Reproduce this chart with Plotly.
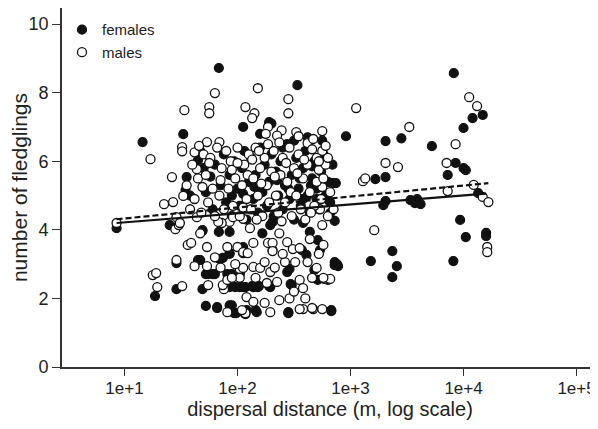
import numpy as np
import plotly.graph_objects as go

# ---- data: log10 dispersal distance (m) and number of fledglings ----
fem_logd = [0.93, 1.16, 1.27, 1.40, 1.46, 1.46, 1.52, 1.55, 1.54, 1.58, 1.65, 1.70, 1.76, 1.69, 1.67,
            1.72, 1.78, 1.69, 1.72, 1.82, 1.835, 1.87, 1.93, 1.91, 1.93, 1.93, 1.99, 2.02, 2.02, 2.07,
            1.835, 2.05, 2.28, 2.53, 1.67,
            2.96, 3.31, 3.45, 3.72, 3.914, 4.0, 4.08, 4.17, 3.93, 4.0, 4.02, 3.86, 3.22, 3.31, 2.84,
            2.87, 3.31, 3.29, 3.53, 3.59, 3.62, 3.57, 4.13, 3.97, 4.02, 4.20, 4.20, 3.37, 3.41, 3.37,
            3.18, 3.91, 2.82, 2.86, 2.86, 2.89, 2.83, 2.75,
            2.22, 2.29, 2.31, 2.58, 2.64, 2.71, 2.73, 2.86, 2.88, 2.05, 2.05, 2.14, 2.18, 2.29, 2.31,
            2.44, 2.48, 2.57, 2.68, 2.71, 2.80, 2.08, 2.16, 2.45, 2.83, 2.61, 2.58, 2.70, 2.79,
            1.82, 1.95, 1.97, 2.07, 2.17, 2.45, 1.93, 1.98, 2.13, 2.19, 2.28, 2.47, 1.74, 1.80, 1.95,
            2.02, 2.46, 1.65, 1.84, 1.93, 1.69,
            1.72, 1.78, 1.80, 1.85, 1.88, 1.90, 1.93, 1.95, 1.97, 2.00, 2.02, 2.04, 2.06, 2.08, 2.10,
            2.12, 2.14, 2.16, 2.18, 2.20, 2.22, 2.24, 2.26, 2.28, 2.30, 2.32, 2.34, 2.36, 2.38, 2.40,
            2.42, 2.44, 2.46, 2.48, 2.50, 2.52, 2.54, 2.56, 2.58, 2.60, 2.62, 2.64, 2.66, 2.68, 2.70,
            2.72, 2.74, 2.76, 2.78, 2.80, 2.82, 2.84, 2.15, 2.25, 2.35, 2.45, 2.55, 2.65, 1.95, 2.05,
            2.40, 2.50, 2.62, 2.20, 2.30, 2.66]
fem_fledg = [4.05, 6.56, 2.07, 4.14, 3.03, 2.27, 6.79, 5.54, 5.16, 5.00, 6.03, 5.80, 5.55, 3.97, 3.12,
             2.71, 2.71, 2.27, 1.78, 1.75, 3.94, 3.18, 3.30, 2.71, 3.94, 1.80, 1.57, 2.33, 2.75, 2.33,
             8.72, 7.00, 7.14, 8.22, 6.30,
             6.73, 6.59, 6.67, 6.44, 8.57, 6.97, 7.26, 7.35, 5.95, 5.80, 5.74, 5.60, 5.48, 5.54, 5.36,
             5.36, 4.84, 4.72, 4.87, 4.90, 4.75, 4.78, 5.07, 4.29, 3.79, 3.91, 3.82, 3.38, 2.94, 2.62,
             3.09, 3.09, 4.49, 4.26, 2.97, 2.94, 1.63, 6.60,
             3.90, 4.14, 4.23, 4.20, 3.94, 3.70, 3.41, 3.06, 3.00, 3.50, 2.33, 2.33, 2.33, 2.33, 3.41,
             2.77, 2.39, 3.41, 2.83, 2.54, 2.54, 1.66, 1.66, 1.57, 1.66, 3.27, 4.90, 4.90, 4.90,
             1.72, 1.80, 1.57, 1.54, 1.60, 1.60, 2.33, 2.33, 2.36, 2.36, 2.36, 2.42, 2.71, 2.71, 2.71,
             2.71, 2.86, 3.12, 3.15, 3.32, 3.99,
             5.10, 4.60, 5.90, 5.30, 6.20, 4.80, 5.60, 4.40, 6.00, 5.20, 4.70, 5.80, 6.30, 4.30, 5.40,
             6.10, 4.90, 5.60, 4.50, 6.40, 5.10, 5.90, 4.70, 5.40, 6.20, 4.40, 5.70, 5.00, 6.00, 4.60,
             5.30, 6.50, 4.90, 5.60, 4.30, 6.10, 5.20, 4.70, 5.80, 6.30, 5.00, 4.50, 5.50, 6.00, 5.20,
             4.60, 5.70, 6.20, 5.00, 5.40, 4.80, 5.90, 5.25, 5.30, 5.45, 5.20, 5.50, 5.30, 5.00, 5.05,
             6.40, 6.60, 6.70, 6.80, 7.10, 5.85]

male_logd = [0.93, 1.23, 1.25, 1.28, 1.29, 1.46, 1.51, 1.35, 1.43, 1.45, 1.48, 1.53, 1.75, 1.75, 1.80,
             1.51, 1.51, 1.62, 1.73, 1.84, 1.42, 1.64, 1.69, 1.52, 1.56, 1.59, 1.73, 1.62, 1.73, 1.74,
             1.88, 1.87, 1.91, 1.91, 2.00, 2.05, 2.02, 2.02, 1.91, 2.07, 1.93, 1.86, 1.46, 1.49, 1.64,
             1.67, 1.83, 1.96,
             2.18, 2.45, 2.45, 2.07, 2.15, 2.13, 2.27, 2.39, 2.52, 2.54, 2.62, 2.67, 2.75, 3.05, 3.52,
             4.05, 4.12, 3.93, 2.25, 2.35,
             3.31, 3.42, 3.85, 3.11, 3.13, 3.86, 4.09, 4.17, 4.22, 3.21, 4.21, 4.21, 2.75, 2.70, 2.72,
             2.78, 2.67, 2.75, 2.58, 2.77, 2.82, 2.75, 2.75, 2.73, 2.80,
             2.14, 2.27, 2.31, 2.31, 2.44, 2.49, 2.55, 2.64, 2.76, 2.05, 2.09, 2.05, 2.14, 2.20, 2.24,
             2.29, 2.35, 2.26, 2.42, 2.51, 2.55, 2.62, 2.70, 2.76, 2.08, 2.14, 2.24, 2.37, 2.46, 2.04,
             2.29, 2.55, 2.66, 2.37, 2.11, 2.05,
             1.55, 1.58, 1.60, 1.62, 1.65, 1.68, 1.70, 1.66,
             1.72, 1.74, 1.76, 1.78, 1.80, 1.82, 1.84, 1.86, 1.88, 1.90, 1.75, 1.85,
             1.92, 1.94, 1.96, 1.98, 2.00, 2.02, 2.04, 2.06, 2.08, 2.10, 1.95, 2.05, 2.00, 2.09,
             2.12, 2.14, 2.16, 2.18, 2.20, 2.22, 2.24, 2.26, 2.28, 2.30, 2.13, 2.17, 2.21, 2.27, 2.19,
             2.32, 2.34, 2.36, 2.38, 2.40, 2.42, 2.44, 2.46, 2.48, 2.50, 2.33, 2.39, 2.43, 2.47, 2.37,
             2.52, 2.54, 2.56, 2.58, 2.60, 2.62, 2.64, 2.66, 2.68, 2.70, 2.53, 2.59, 2.65,
             2.72, 2.74, 2.76, 2.80, 2.82, 2.85, 2.78,
             1.80, 1.85, 1.95, 1.98, 2.16, 2.33, 2.40, 2.58, 2.66, 2.72, 2.50, 2.60]
male_fledg = [4.20, 6.06, 2.68, 2.74, 2.33, 3.12, 2.36, 4.75, 4.81, 4.02, 4.14, 7.49, 7.58, 7.40, 7.99,
              6.41, 6.29, 6.26, 6.56, 6.56, 5.54, 5.77, 5.25, 4.99, 3.56, 3.62, 3.50, 2.94, 2.94, 2.39,
              2.27, 2.39, 2.54, 3.50, 3.50, 3.32, 2.86, 2.60, 1.60, 1.57, 4.23, 4.20, 4.37, 4.20, 4.37,
              3.90, 4.23, 4.37,
              8.13, 7.81, 7.40, 7.58, 7.40, 7.26, 7.00, 6.90, 6.85, 6.73, 6.53, 6.65, 6.88, 7.55, 7.00,
              7.87, 7.61, 6.50, 6.80, 6.75,
              5.95, 5.83, 5.95, 5.42, 5.50, 5.13, 5.31, 4.96, 4.81, 3.99, 3.50, 3.35, 6.30, 6.10, 5.75,
              5.90, 1.69, 1.69, 1.69, 2.57, 2.57, 4.14, 5.25, 4.60, 4.40,
              3.62, 3.62, 3.62, 3.38, 3.64, 3.44, 3.47, 3.73, 3.56, 3.35, 3.32, 2.89, 2.92, 2.89, 3.06,
              2.77, 2.48, 2.45, 3.06, 3.06, 2.54, 3.06, 2.89, 2.60, 2.04, 1.90, 1.87, 1.95, 2.00, 1.66,
              1.60, 1.69, 1.72, 3.90, 4.05, 4.32,
              5.30, 4.60, 5.90, 4.90, 5.50, 4.50, 6.20, 6.45,
              5.60, 4.80, 6.10, 5.20, 4.40, 6.40, 5.00, 5.80, 4.60, 6.30, 5.95, 5.45,
              5.20, 6.00, 4.70, 5.50, 6.40, 4.40, 5.30, 5.90, 4.90, 6.20, 5.75, 4.65, 5.95, 5.60,
              4.60, 5.50, 6.40, 5.00, 5.80, 4.40, 6.10, 5.30, 4.80, 5.70, 6.05, 4.30, 5.35, 6.50, 6.30,
              6.30, 5.00, 4.50, 5.60, 6.10, 4.80, 5.40, 6.40, 4.40, 5.80, 5.55, 4.25, 5.95, 5.10, 6.55,
              5.00, 6.20, 4.60, 5.50, 4.30, 5.90, 5.10, 6.35, 4.70, 5.40, 5.65, 6.05, 4.50,
              6.00, 4.90, 5.50, 6.10, 5.10, 4.60, 6.45,
              3.20, 2.90, 2.60, 3.00, 2.60, 2.90, 3.30, 2.30, 2.60, 3.30, 2.20, 2.00]

# fitted regressions: fledglings = a + b * log10(distance)
fem_fit = (3.956, 0.262)
male_fit = (4.012, 0.320)

x_ticks = [1e1, 1e2, 1e3, 1e4, 1e5]
x_ticktext = ["1e+1", "1e+2", "1e+3", "1e+4", "1e+5"]
y_ticks = [0, 2, 4, 6, 8, 10]

fem_d = [10 ** v for v in fem_logd]
male_d = [10 ** v for v in male_logd]

def fit_line(logs, fit):
    lo, hi = min(logs), max(logs)
    xs = np.array([lo, hi])
    return (10 ** xs).tolist(), (fit[0] + fit[1] * xs).tolist()

fx, fy = fit_line(fem_logd, fem_fit)
mx, my = fit_line(male_logd, male_fit)

fig = go.Figure()
fig.add_trace(go.Scatter(x=fem_d, y=fem_fledg, mode="markers", name="females",
                         marker=dict(size=9, color="#111111", line=dict(color="#111111", width=1.2))))
fig.add_trace(go.Scatter(x=male_d, y=male_fledg, mode="markers", name="males",
                         marker=dict(size=9, color="white", line=dict(color="#111111", width=1.3))))
fig.add_trace(go.Scatter(x=fx, y=fy, mode="lines", showlegend=False,
                         line=dict(color="#111111", width=2.2)))
fig.add_trace(go.Scatter(x=mx, y=my, mode="lines", showlegend=False,
                         line=dict(color="#111111", width=2.2, dash="6px,3px")))

font = "Liberation Sans, Arial, sans-serif"
# page body has an 8px margin: keep the figure inside the window so no scrollbar appears
fig.update_layout(
    width=590, height=412,
    margin=dict(l=54, r=0, t=0, b=53, autoexpand=False),
    paper_bgcolor="white", plot_bgcolor="white",
    font=dict(family=font, size=18, color="#222222"),
    showlegend=True,
    legend=dict(x=0.0, y=0.985, xanchor="left", yanchor="top", bgcolor="rgba(0,0,0,0)",
                font=dict(size=15, color="#222222"), itemwidth=30, tracegroupgap=0,
                borderwidth=0),
    xaxis=dict(type="log", range=[0.447, 5.19], tickvals=x_ticks, ticktext=x_ticktext,
               ticks="outside", ticklen=7, tickwidth=1.2, tickcolor="#333333",
               tickfont=dict(size=17), ticklabelstandoff=-2,
               showline=True, linewidth=1.6, linecolor="#333333", mirror=True,
               showgrid=False, zeroline=False, automargin=False,
               title=dict(text="dispersal distance (m, log scale)", font=dict(size=20), standoff=5)),
    yaxis=dict(range=[0, 10.47], tickvals=y_ticks,
               ticks="outside", ticklen=8, tickwidth=1.2, tickcolor="#333333",
               tickfont=dict(size=18),
               showline=True, linewidth=1.6, linecolor="#333333", mirror=False,
               showgrid=False, zeroline=False, automargin=False,
               title=dict(text="number of fledglings", font=dict(size=21), standoff=0)),
)

fig.write_html("out.html")
